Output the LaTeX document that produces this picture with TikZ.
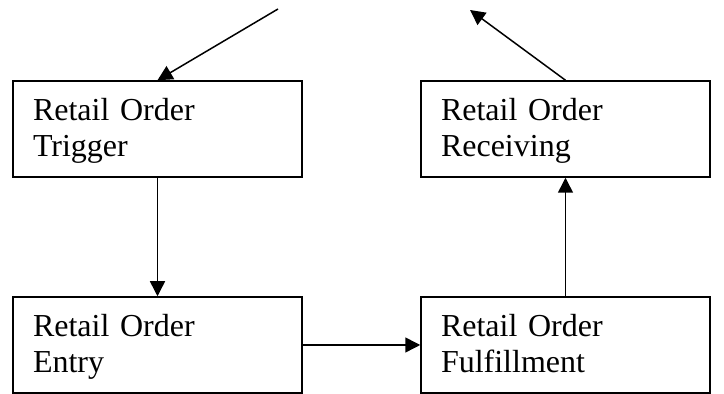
\documentclass[tikz,border=0pt]{standalone}
\usepackage{fontspec}
\setmainfont{Liberation Serif}
\usetikzlibrary{arrows.meta}
\begin{document}
\begin{tikzpicture}[x=0.5pt,y=-0.5pt,
  box/.style={draw, line width=0.75pt, rectangle, minimum width=144.5pt, minimum height=48pt,
    inner sep=0pt, text width=124.5pt, align=left, text height=12pt, text depth=20pt,
    font=\fontsize{16}{18}\selectfont},
  conn/.style={line width=0.75pt, -{Triangle[length=7.5pt,width=7.5pt]}}]
\useasboundingbox (0,0) rectangle (724,394);
\node[box] (trig) at (157.5,129) {Retail Order\\Trigger};
\node[box] (recv) at (565.5,129) {Retail Order\\Receiving};
\node[box] (entry) at (157.5,345) {Retail Order\\Entry};
\node[box] (fulf) at (565.5,345) {Retail Order\\Fulfillment};
\coordinate (in) at (278,9);
\coordinate (out) at (470,10);
\draw[conn] (in) -- (trig.north);
\draw[conn] (recv.north) -- (out);
\draw[conn] (trig.south) -- (entry.north);
\draw[conn] (entry.east) -- (fulf.west);
\draw[conn] (fulf.north) -- (recv.south);
\end{tikzpicture}
\end{document}
